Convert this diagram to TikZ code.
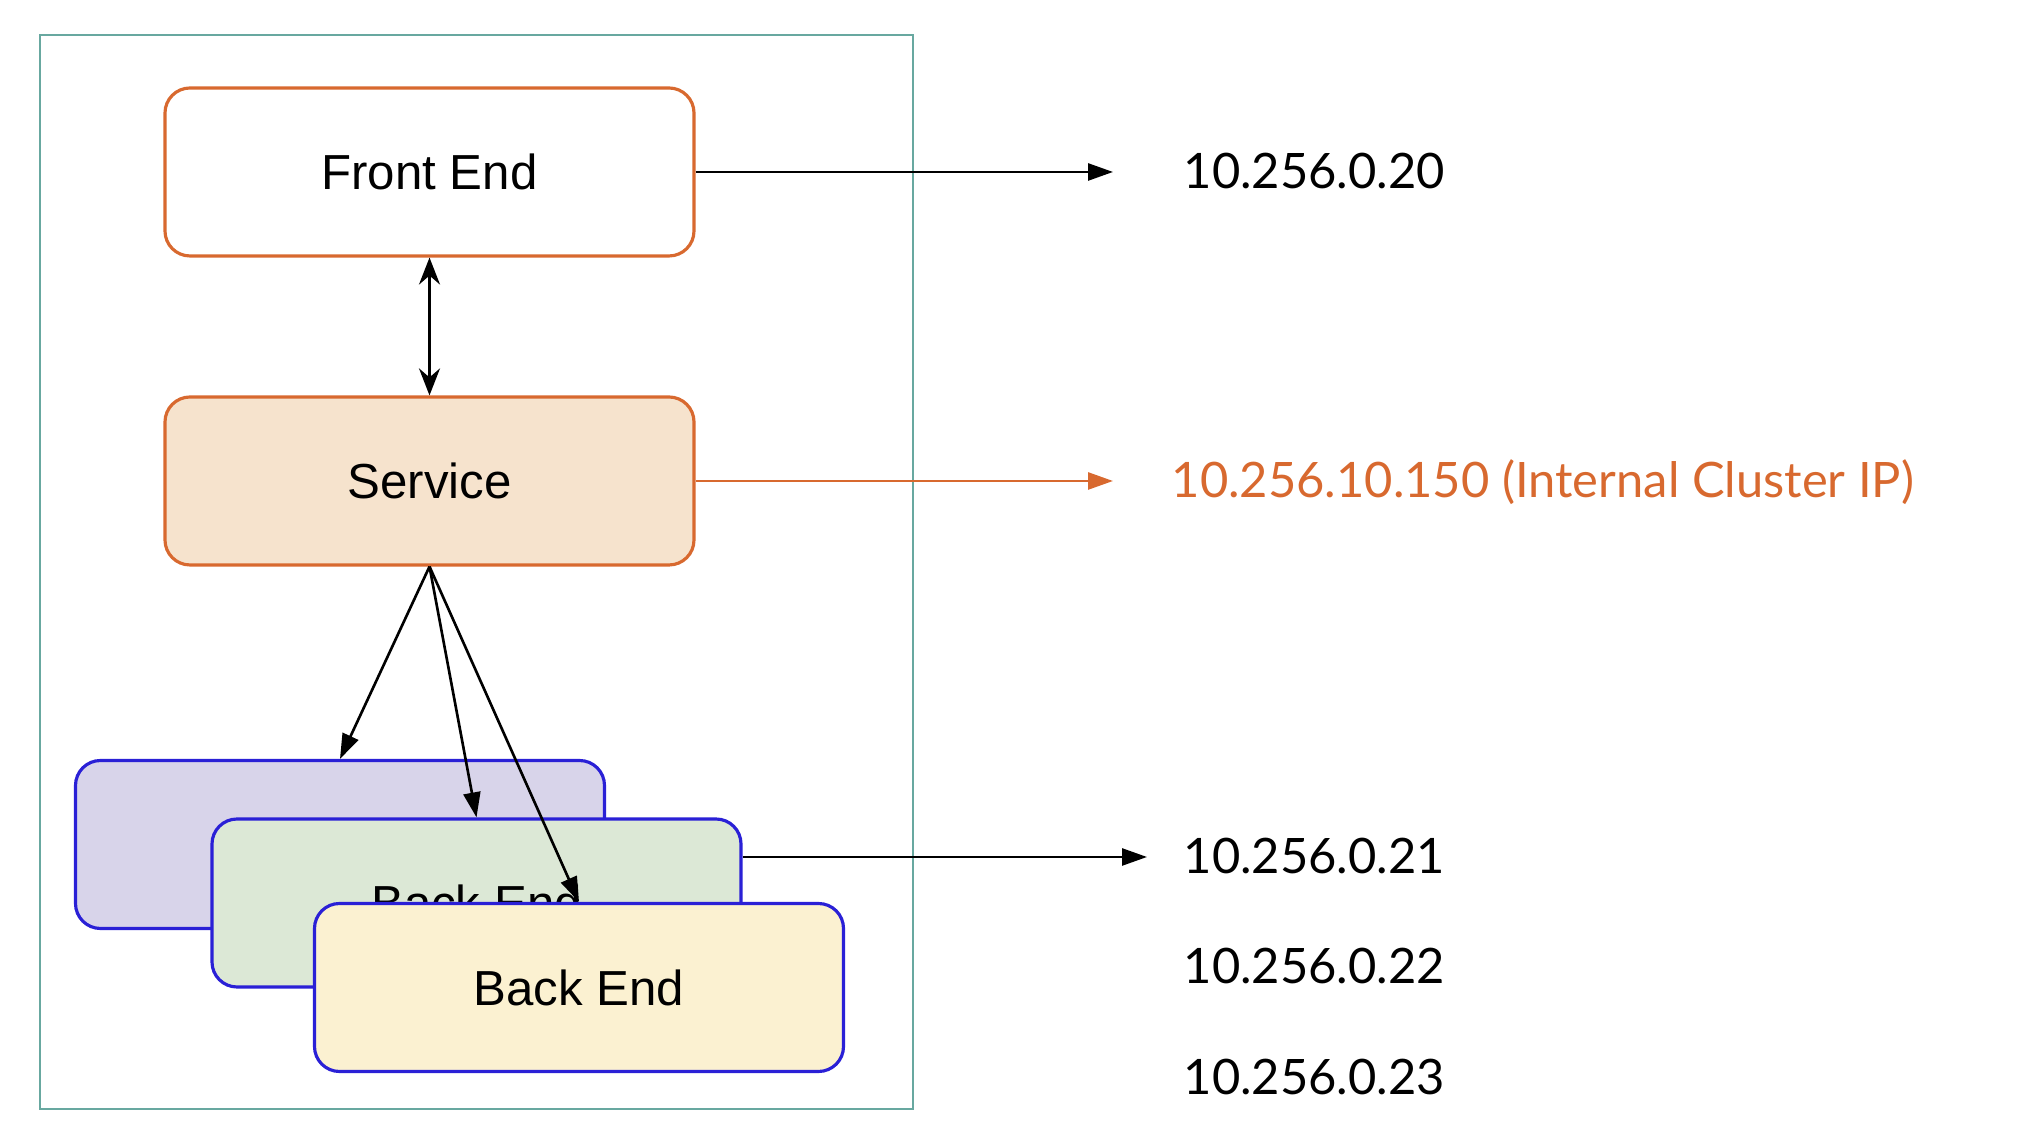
\documentclass[tikz,border=0pt]{standalone}
\usepackage{fontspec}
\setmainfont{Liberation Sans}
\newfontfamily\lato{Lato}
\usetikzlibrary{arrows.meta}
\definecolor{svcorange}{HTML}{D8692F}
\definecolor{svcfill}{HTML}{F6E3CD}
\definecolor{podblue}{HTML}{2A20D6}
\definecolor{podpurple}{HTML}{D8D4EA}
\definecolor{podgreen}{HTML}{DCE8D6}
\definecolor{podyellow}{HTML}{FBF1D1}
\definecolor{clusterteal}{HTML}{68A8A0}
\tikzset{
  box/.style={draw, rounded corners=0.25cm, line width=0.9pt, minimum width=5.29cm, minimum height=1.68cm, inner sep=0pt, font=\fontsize{14}{17}\selectfont},
  svcbox/.style={box, draw=svcorange},
  podbox/.style={box, draw=podblue},
  ip/.style={anchor=base west, inner sep=0pt, font=\lato\fontsize{13.9}{17}\selectfont},
  arr/.style={line width=0.75pt, -{Triangle[length=2.5mm, width=1.7mm]}}
}

\begin{document}
\begin{tikzpicture}
\useasboundingbox (0,0) rectangle (20.30,11.38);
\draw[clusterteal, line width=0.8pt] (0.40,0.29) rectangle (9.13,11.03);

\node[svcbox, fill=white] (fe) at (4.295,9.66) {Front End};
\node[svcbox, fill=svcfill] (svc) at (4.295,6.57) {Service};

\node[podbox, fill=podpurple] (be1) at (3.40,2.935) {};
\node[podbox, fill=podgreen] (be2) at (4.765,2.35) {Back End};
\node[podbox, fill=podyellow] (be3) at (5.79,1.505) {Back End};

\node[ip] (ip20) at (11.83,9.49) {10.256.0.20};
\node[ip, text=svcorange] (clusterip) at (11.71,6.40) {10.256.10.150 (Internal Cluster IP)};
\node[ip] (ip21) at (11.83,2.64) {10.256.0.21};
\node[ip] (ip22) at (11.83,1.54) {10.256.0.22};
\node[ip] (ip23) at (11.83,0.43) {10.256.0.23};

\coordinate (fetip) at (11.13,9.66);
\coordinate (svctip) at (11.13,6.57);
\coordinate (betip) at (11.47,2.81);

% front end <-> service
\draw[line width=0.75pt, {Stealth[length=2.7mm, width=2.1mm, inset=0.9mm]}-{Stealth[length=2.7mm, width=2.1mm, inset=0.9mm]}] (fe.south) -- (svc.north);

% service spreads to the back ends
\draw[arr] (svc.south) -- (be1.north);
\draw[arr] (svc.south) -- (be2.north);
\draw[arr] (svc.south) -- (be3.north);

% addresses
\draw[arr] (fe.east) -- (fetip);
\draw[arr, svcorange] (svc.east) -- (svctip);
\draw[arr] (be2.east |- betip) -- (betip);
\end{tikzpicture}
\end{document}
